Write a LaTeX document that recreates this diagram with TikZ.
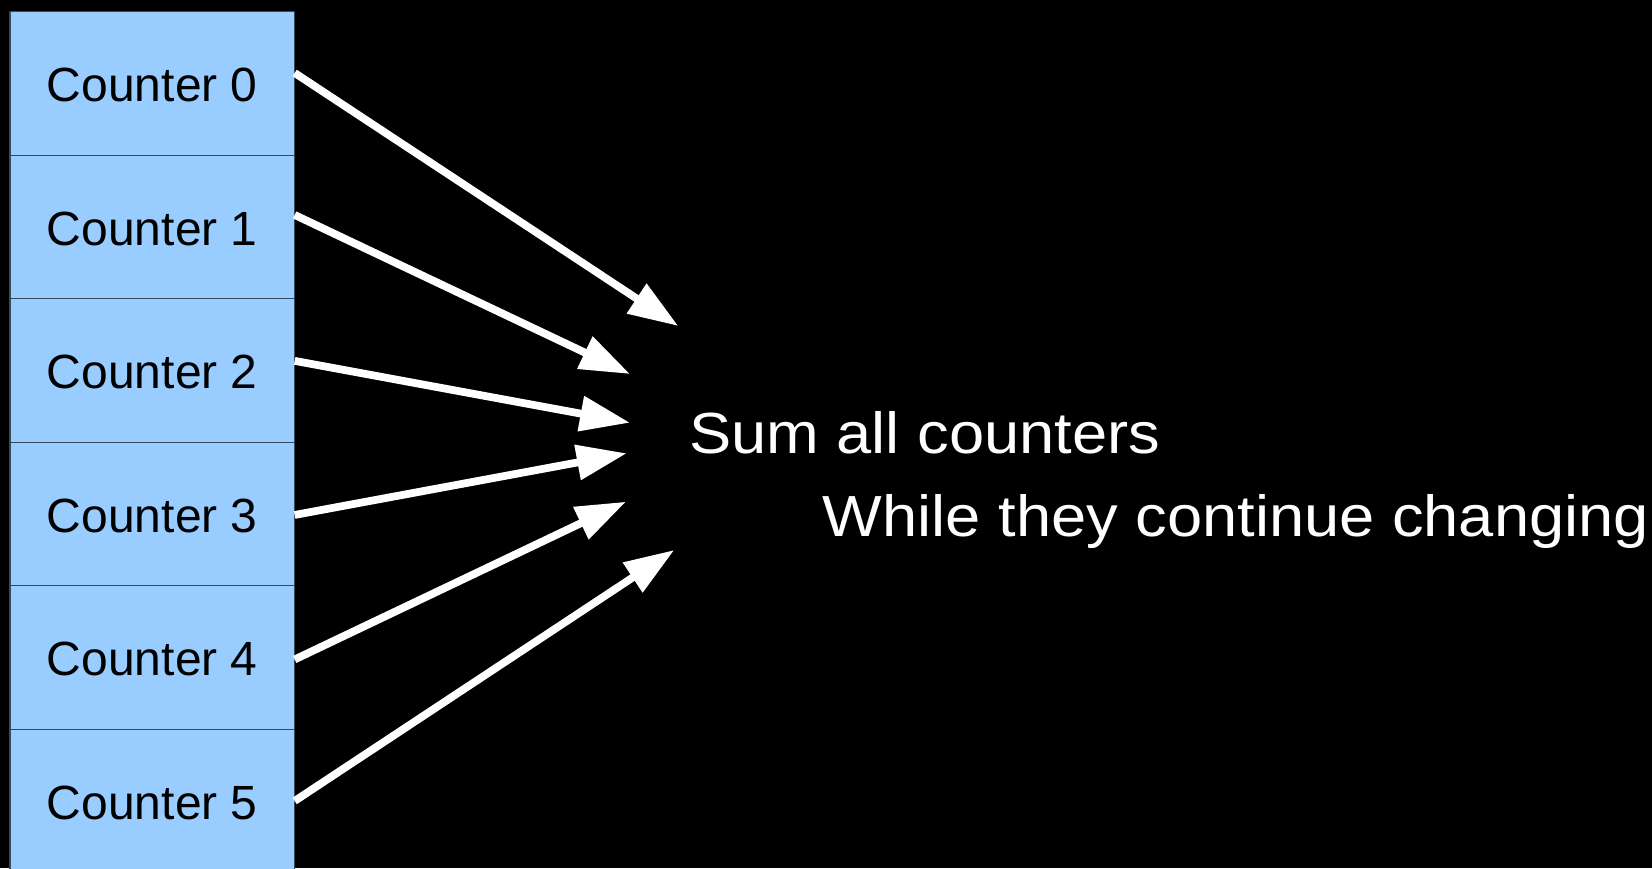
\documentclass[tikz,border=0pt]{standalone}
\usepackage{fontspec}
\setmainfont{Liberation Sans}
\newfontfamily\sumfont[FakeStretch=1.09]{Liberation Sans}
\usetikzlibrary{arrows.meta,calc}
\definecolor{boxfill}{HTML}{99CCFF}
\definecolor{boxline}{HTML}{3A4A5C}
\begin{document}
\begin{tikzpicture}[x=0.75pt,y=-0.75pt,
  cbox/.style={draw=boxline,line width=0.9pt,fill=boxfill,minimum width=213.5pt,
    minimum height=107.6pt,inner sep=0pt,outer sep=0pt},
  ctext/.style={inner sep=0pt,text=black,font=\fontsize{36}{43}\selectfont},
  arr/.style={draw=white,line width=5.8pt,-{Triangle[length=37.5pt,width=25.5pt]}},
  sumtext/.style={anchor=base west,inner sep=0pt,text=white,
    font=\sumfont\fontsize{43.5}{52}\selectfont}]
\useasboundingbox (0,0) rectangle (1652,868);
\fill[black] (0,0) rectangle (1652,868);
\clip (0,0) rectangle (1652,868);
% counter boxes
\node[cbox] (c0) at (152.35,83.45) {};
\node[cbox] (c1) at (152.35,226.95) {};
\node[cbox] (c2) at (152.35,370.45) {};
\node[cbox] (c3) at (152.35,513.95) {};
\node[cbox] (c4) at (152.35,657.45) {};
\node[cbox] (c5) at (152.35,800.95) {};
\node[ctext] (l0) at ([yshift=-1.2pt]c0.center) {Counter 0};
\node[ctext] (l1) at ([yshift=-1.2pt]c1.center) {Counter 1};
\node[ctext] (l2) at ([yshift=-1.2pt]c2.center) {Counter 2};
\node[ctext] (l3) at ([yshift=-1.2pt]c3.center) {Counter 3};
\node[ctext] (l4) at ([yshift=-1.2pt]c4.center) {Counter 4};
\node[ctext] (l5) at ([yshift=-1.2pt]c5.center) {Counter 5};
% texts
\node[sumtext] (sum) at (689,453.3) {Sum all counters};
\node[sumtext] (while) at (822.7,536.7) {While they continue changing};
% arrow tips
\coordinate (t0) at (678.3,326);
\coordinate (t1) at (630,374);
\coordinate (t2) at (630,422.7);
\coordinate (t3) at (626.7,453.3);
\coordinate (t4) at (626,501.7);
\coordinate (t5) at (674.3,550);
% arrows
\draw[arr] ($(c0.east)+(0,-10.5)$) -- (t0);
\draw[arr] ($(c1.east)+(0,-12)$) -- (t1);
\draw[arr] ($(c2.east)+(0,-9.6)$) -- (t2);
\draw[arr] ($(c3.east)+(0,1)$) -- (t3);
\draw[arr] ($(c4.east)+(0,2)$) -- (t4);
\draw[arr] ($(c5.east)+(0,0)$) -- (t5);
\end{tikzpicture}
\end{document}
